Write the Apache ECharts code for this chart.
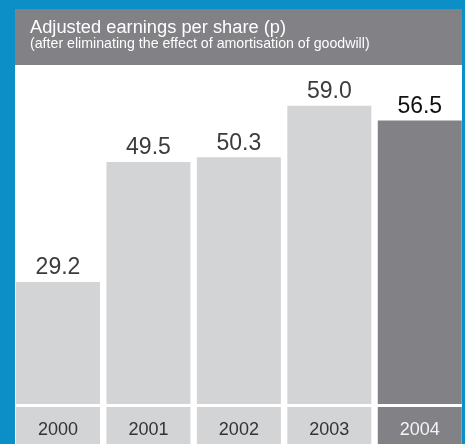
<!DOCTYPE html>
<html>
<head>
<meta charset="utf-8">
<style>
  html, body { margin: 0; padding: 0; background: #0b8fc6; }
  #chart { width: 465px; height: 444px; }
</style>
<script src="https://cdn.jsdelivr.net/npm/echarts@6/dist/echarts.min.js"></script>
</head>
<body>
<div id="chart"></div>
<script>
// Adjusted EPS by year, pence
const years = ['2000', '2001', '2002', '2003', '2004'];
const eps = [29.2, 49.5, 50.3, 59.0, 56.5];
const currentYear = '2004';

const titleText = 'Adjusted earnings per share (p)';
const subtitleText = '(after eliminating the effect of amortisation of goodwill)';

const BLUE = '#0b8fc6';
const DARK = '#818186';
const LIGHT = '#d3d4d6';
const FONT = '"Liberation Sans", Arial, Helvetica, sans-serif';

const isCurrent = (y) => y === currentYear;

const chart = echarts.init(document.getElementById('chart'), null, { renderer: 'canvas' });

const barData = years.map((y, i) => ({
  value: eps[i],
  itemStyle: { color: isCurrent(y) ? DARK : LIGHT },
  label: { color: isCurrent(y) ? '#111111' : '#3c3c3c' }
}));

chart.setOption({
  backgroundColor: BLUE,
  animation: false,
  graphic: [
    // white panel
    { type: 'rect', z: -10, shape: { x: 15, y: 9, width: 447, height: 440 }, style: { fill: '#ffffff' }, silent: true },
    // grey header band
    { type: 'rect', z: -9, shape: { x: 15, y: 9, width: 447, height: 56 }, style: { fill: DARK }, silent: true },
    // blue frame edges, drawn above the plot so the separator stops at the panel
    { type: 'rect', z: 100, shape: { x: 0, y: 0, width: 15, height: 444 }, style: { fill: BLUE }, silent: true },
    { type: 'rect', z: 100, shape: { x: 462, y: 0, width: 3, height: 444 }, style: { fill: BLUE }, silent: true }
  ],
  title: [
    {
      text: titleText,
      left: 30, top: 19, padding: 0,
      textStyle: { fontFamily: FONT, fontSize: 18.3, lineHeight: 18, fontWeight: 'normal', color: '#ffffff' }
    },
    {
      text: subtitleText,
      left: 30, top: 37.5, padding: 0,
      textStyle: { fontFamily: FONT, fontSize: 14.2, lineHeight: 14, fontWeight: 'normal', color: '#ffffff' }
    }
  ],
  grid: { left: 12.75, right: 0, top: 99.8, bottom: 39, containLabel: false },
  xAxis: {
    type: 'category',
    data: years,
    z: 10,
    axisTick: { show: false },
    // white gap between each bar and its year cell
    axisLine: { show: true, lineStyle: { color: '#ffffff', width: 3 } },
    axisLabel: {
      margin: 16.5,
      interval: 0,
      fontFamily: FONT,
      fontSize: 18,
      color: (v) => (isCurrent(v) ? '#f4f4f4' : '#333333')
    }
  },
  yAxis: {
    type: 'value',
    min: 8.41,
    max: 60,
    show: false,
    splitLine: { show: false }
  },
  series: [{
    type: 'bar',
    data: barData,
    barWidth: 84,
    // bars run on below the separator to form the year cells
    clip: false,
    label: {
      show: true,
      position: 'top',
      distance: 2.5,
      fontFamily: FONT,
      fontSize: 23,
      formatter: (p) => p.value.toFixed(1)
    }
  }]
});
</script>
</body>
</html>
